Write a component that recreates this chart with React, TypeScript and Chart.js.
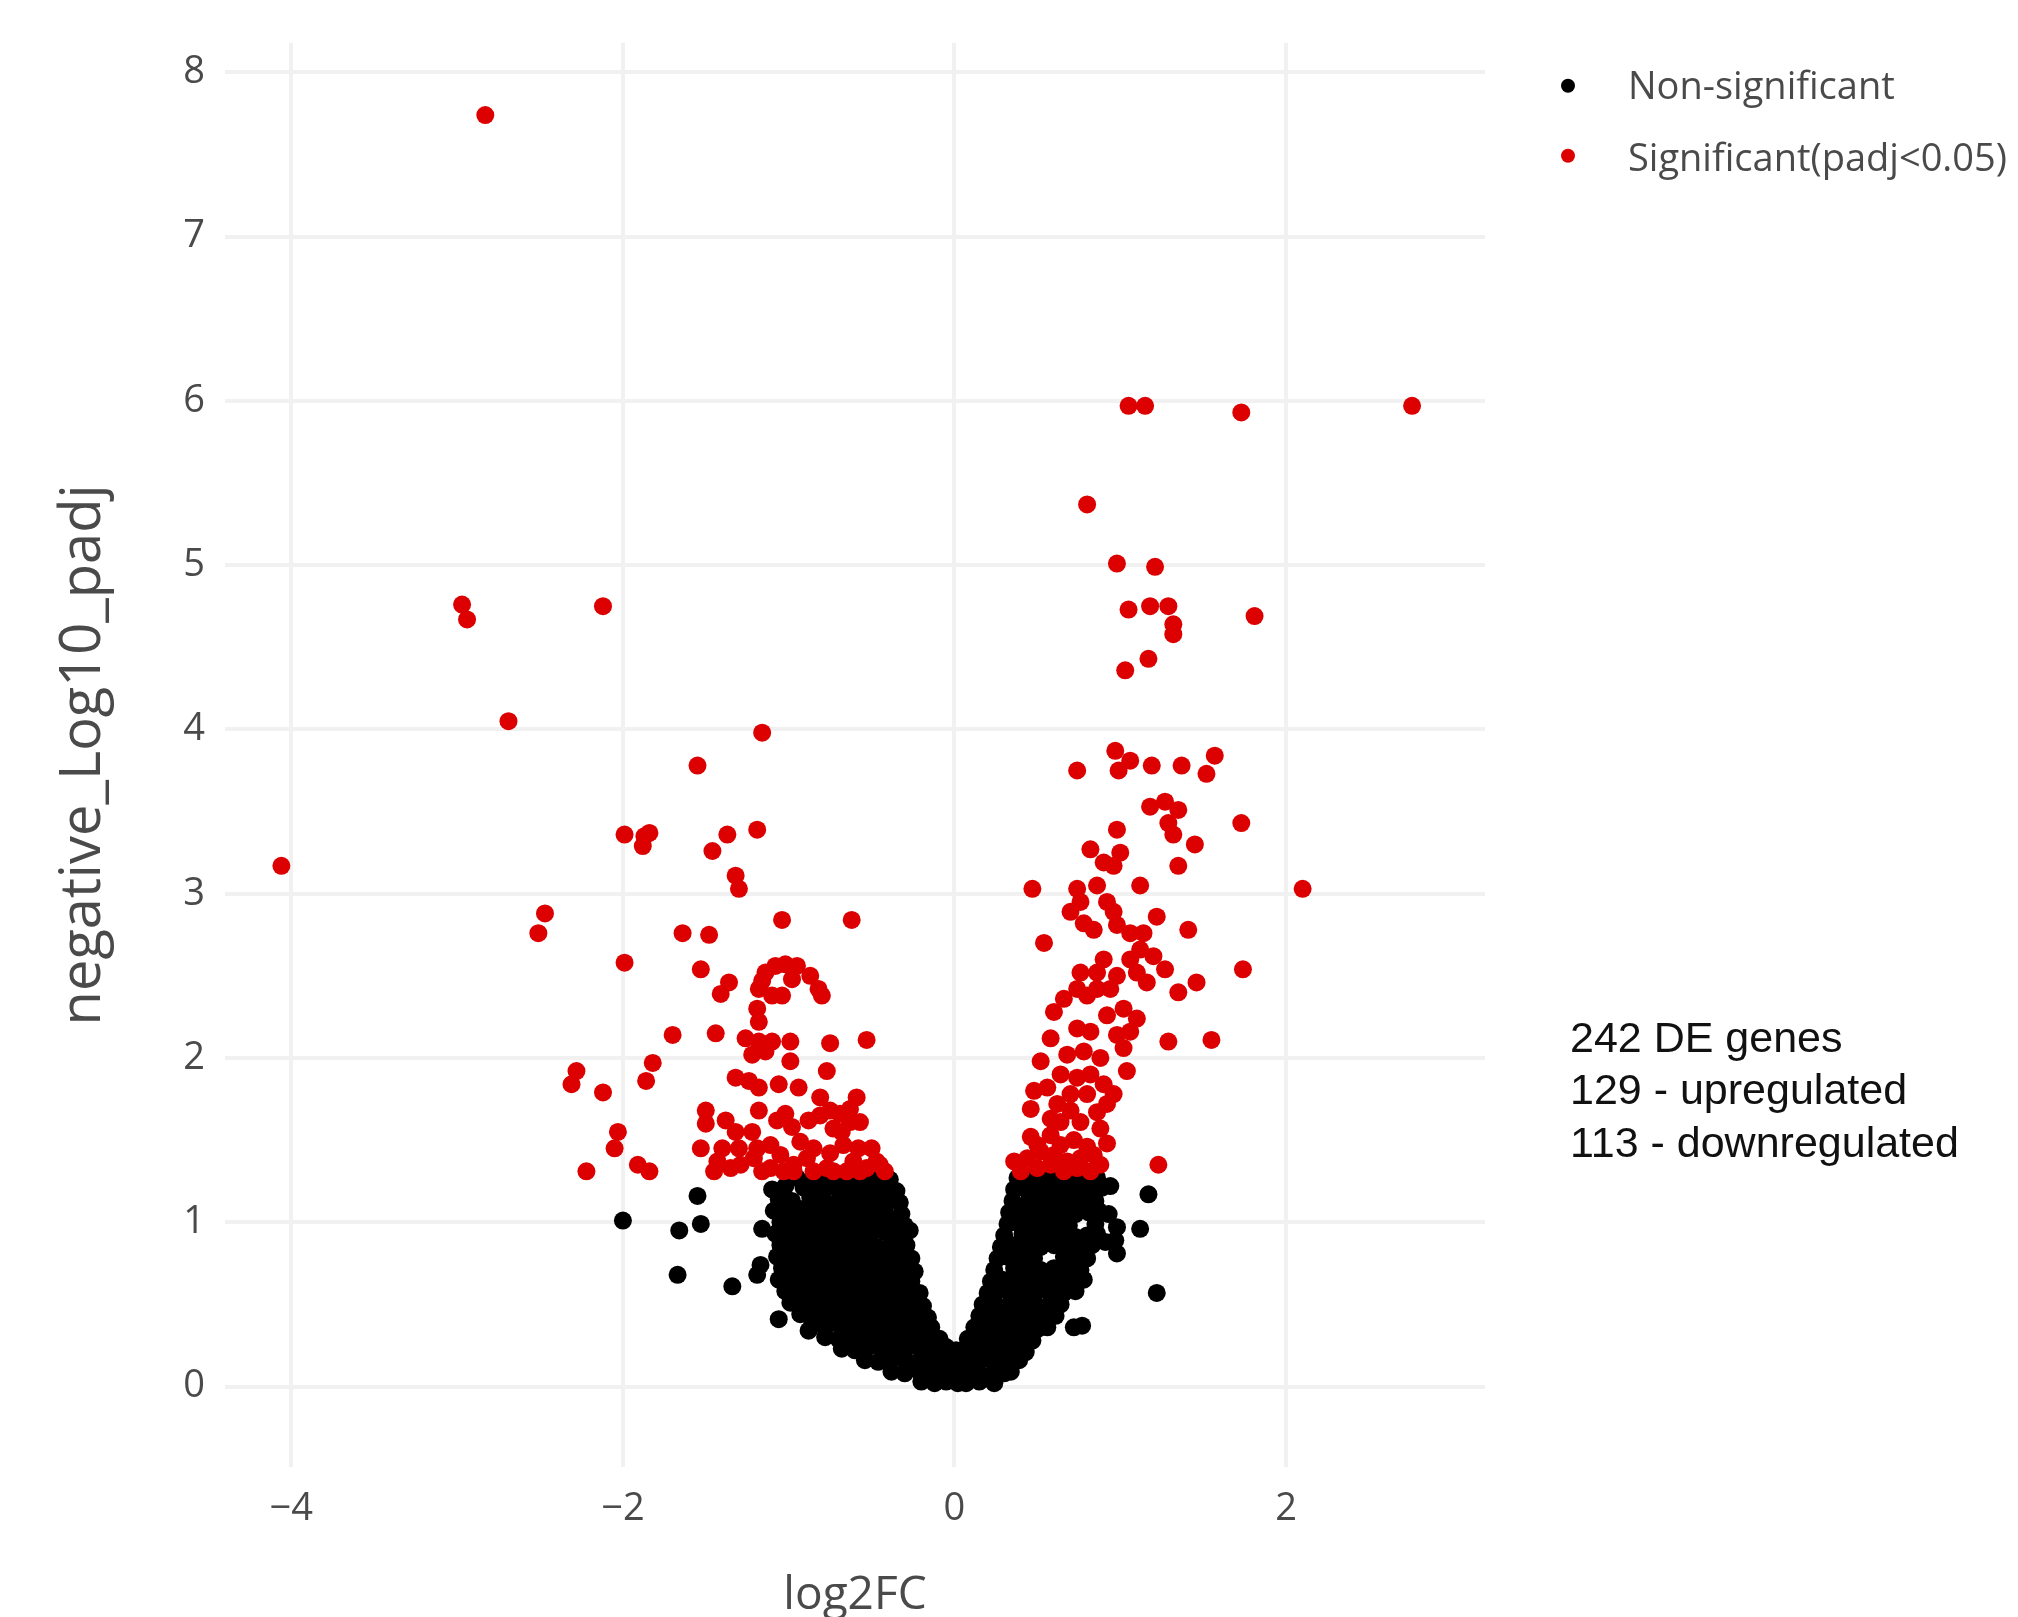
import React, { useEffect, useRef } from "react";
import { Chart, registerables } from "chart.js";

Chart.register(...registerables);

// ---------- data ----------
const xTickValues = [-4, -2, 0, 2];
const yTickValues = [0, 1, 2, 3, 4, 5, 6, 7, 8];
const xAxisTitle = "log2FC";
const yAxisTitle = "negative_Log10_padj";
const legendLabels = ["Non-significant", "Significant(padj<0.05)"];
const annotationLines = ["242 DE genes", "129 - upregulated", "113 - downregulated"];

// significant, downregulated (log2FC < 0)
const sigDown: [number, number][] = [
  [-2.83, 7.74], [-4.06, 3.17], [-2.97, 4.76], [-2.94, 4.67], [-2.12, 4.75], [-2.69, 4.05], [-1.16, 3.98], [-1.55, 3.78],
  [-1.99, 3.36], [-1.87, 3.35], [-1.84, 3.37], [-1.88, 3.29], [-1.46, 3.26], [-1.37, 3.36], [-1.19, 3.39], [-1.32, 3.11], [-1.30, 3.03],
  [-2.47, 2.88], [-2.51, 2.76], [-1.64, 2.76], [-1.48, 2.75], [-1.04, 2.84], [-0.62, 2.84], [-1.99, 2.58], [-1.53, 2.54], [-1.36, 2.46], [-1.41, 2.39],
  [-1.14, 2.52], [-1.08, 2.56], [-1.02, 2.57], [-0.95, 2.56], [-0.87, 2.50], [-0.82, 2.42], [-0.80, 2.38], [-1.18, 2.42], [-1.19, 2.30],
  [-1.18, 2.22], [-1.10, 2.38], [-1.04, 2.38], [-0.98, 2.48], [-1.16, 2.47],
  [-1.70, 2.14], [-1.44, 2.15], [-1.26, 2.12], [-1.18, 2.10], [-1.14, 2.04], [-1.10, 2.10], [-1.22, 2.02], [-0.99, 2.10], [-0.99, 1.98], [-0.53, 2.11], [-0.75, 2.09],
  [-2.28, 1.92], [-2.31, 1.84], [-2.12, 1.79], [-1.82, 1.97], [-1.86, 1.86],
  [-1.32, 1.88], [-1.24, 1.86], [-1.18, 1.82], [-1.06, 1.84], [-0.94, 1.82], [-0.77, 1.92], [-0.59, 1.76], [-0.69, 1.66], [-0.63, 1.61],
  [-1.50, 1.68], [-1.50, 1.60], [-1.18, 1.68], [-1.02, 1.66], [-0.98, 1.58], [-1.32, 1.55], [-1.22, 1.55], [-2.03, 1.55], [-0.81, 1.76], [-0.75, 1.68],
  [-2.05, 1.45], [-2.22, 1.31], [-1.91, 1.35], [-1.84, 1.31], [-1.53, 1.45], [-1.43, 1.37], [-1.35, 1.33], [-1.29, 1.35], [-1.21, 1.39],
  [-1.19, 1.45], [-1.11, 1.47], [-1.07, 1.62], [-0.93, 1.49], [-0.89, 1.39], [-0.97, 1.35], [-1.05, 1.41], [-1.11, 1.33], [-0.81, 1.65],
  [-0.73, 1.57], [-0.67, 1.47], [-0.61, 1.37], [-0.53, 1.33], [-0.47, 1.37], [-0.77, 1.33], [-0.65, 1.31], [-0.57, 1.31], [-0.97, 1.31],
  [-0.85, 1.31], [-0.73, 1.31], [-0.63, 1.69], [-0.57, 1.61], [-0.45, 1.35], [-1.40, 1.45], [-1.45, 1.31], [-1.30, 1.45], [-1.16, 1.31],
  [-1.03, 1.31], [-0.85, 1.45], [-0.75, 1.42], [-0.58, 1.45], [-0.50, 1.45], [-1.38, 1.62], [-0.88, 1.62], [-0.68, 1.55], [-0.42, 1.31],
];

// significant, upregulated (log2FC > 0)
const sigUp: [number, number][] = [
  [1.05, 5.97], [1.15, 5.97], [1.73, 5.93], [2.76, 5.97], [0.80, 5.37], [0.98, 5.01], [1.21, 4.99],
  [1.05, 4.73], [1.18, 4.75], [1.29, 4.75], [1.32, 4.64], [1.32, 4.58], [1.81, 4.69], [1.17, 4.43], [1.03, 4.36],
  [0.74, 3.75], [0.97, 3.87], [0.99, 3.75], [1.06, 3.81], [1.19, 3.78], [1.37, 3.78], [1.57, 3.84], [1.52, 3.73],
  [1.18, 3.53], [1.29, 3.43], [1.35, 3.51], [1.73, 3.43], [0.98, 3.39], [0.82, 3.27], [0.90, 3.19], [0.96, 3.17], [1.35, 3.17], [2.10, 3.03], [0.47, 3.03],
  [0.74, 3.03], [0.76, 2.95], [0.70, 2.89], [0.78, 2.82], [0.84, 2.78], [0.96, 2.89], [0.98, 2.81], [1.06, 2.76], [1.14, 2.76], [1.41, 2.78], [0.54, 2.70],
  [0.76, 2.52], [0.74, 2.42], [0.80, 2.38], [0.86, 2.42], [1.06, 2.60], [1.10, 2.52], [1.16, 2.46], [0.98, 2.50], [0.94, 2.42], [1.27, 2.54], [1.35, 2.40], [1.46, 2.46], [1.74, 2.54],
  [0.60, 2.28], [0.58, 2.12], [0.52, 1.98], [0.74, 2.18], [0.82, 2.16], [0.92, 2.26], [0.98, 2.14], [1.06, 2.16], [1.02, 2.06], [1.29, 2.10], [1.55, 2.11],
  [0.64, 1.90], [0.74, 1.88], [0.82, 1.90], [0.90, 1.84], [0.96, 1.78], [0.70, 1.78], [0.80, 1.78], [0.46, 1.69], [0.58, 1.63], [0.86, 1.67], [0.88, 1.57],
  [0.64, 1.61], [0.76, 1.61], [0.58, 1.53], [0.64, 1.47],
  [0.36, 1.37], [0.44, 1.39], [0.52, 1.43], [0.60, 1.41], [0.68, 1.37], [0.76, 1.39], [0.84, 1.41], [0.88, 1.35], [0.40, 1.31], [0.50, 1.33],
  [0.58, 1.35], [0.66, 1.31], [0.74, 1.33], [0.82, 1.31], [1.23, 1.35], [0.50, 1.47],
  [0.90, 2.60], [0.86, 2.52], [1.02, 2.30], [0.68, 2.02], [0.78, 2.04], [0.88, 2.00], [1.10, 2.24], [0.70, 1.68], [0.92, 1.72], [0.56, 1.82],
  [1.04, 1.92], [1.12, 2.66], [1.20, 2.62], [0.66, 2.36], [0.92, 1.48], [0.72, 1.50], [0.80, 1.46], [0.46, 1.52], [0.48, 1.80], [0.62, 1.72],
  [1.00, 3.25], [0.86, 3.05], [1.12, 3.05], [1.27, 3.56], [1.32, 3.36], [0.92, 2.95], [1.22, 2.86], [1.45, 3.30],
];

// non-significant, left arm of the volcano
const nonSigLeft: [number, number][] = [
  [-0.95, 1.27], [-0.86, 1.26], [-0.78, 1.28], [-0.70, 1.27], [-0.62, 1.26], [-0.54, 1.28], [-0.46, 1.27], [-0.39, 1.26],
  [-1.10, 1.20], [-1.02, 1.22], [-0.91, 1.21], [-0.83, 1.20], [-0.74, 1.22], [-0.66, 1.21], [-0.58, 1.20], [-0.50, 1.22], [-0.42, 1.21], [-0.35, 1.19],
  [-1.06, 1.14], [-0.98, 1.13], [-0.87, 1.15], [-0.79, 1.14], [-0.70, 1.13], [-0.62, 1.15], [-0.54, 1.14], [-0.46, 1.13], [-0.38, 1.15], [-0.33, 1.12],
  [-1.09, 1.07], [-1.01, 1.06], [-0.93, 1.08], [-0.84, 1.07], [-0.75, 1.06], [-0.67, 1.08], [-0.58, 1.07], [-0.50, 1.06], [-0.42, 1.08], [-0.32, 1.05],
  [-1.05, 1.00], [-0.97, 0.99], [-0.88, 1.01], [-0.80, 1.00], [-0.71, 0.99], [-0.63, 1.01], [-0.55, 1.00], [-0.46, 0.99], [-0.38, 1.01], [-0.30, 0.98],
  [-1.08, 0.93], [-1.00, 0.92], [-0.92, 0.94], [-0.84, 0.93], [-0.76, 0.92], [-0.67, 0.94], [-0.59, 0.93], [-0.51, 0.92], [-0.42, 0.94], [-0.34, 0.93], [-0.27, 0.95],
  [-1.05, 0.86], [-0.96, 0.85], [-0.88, 0.87], [-0.79, 0.86], [-0.71, 0.85], [-0.63, 0.87], [-0.55, 0.86], [-0.47, 0.85], [-0.38, 0.87], [-0.29, 0.86],
  [-1.07, 0.79], [-0.99, 0.78], [-0.91, 0.80], [-0.83, 0.79], [-0.75, 0.78], [-0.67, 0.80], [-0.59, 0.79], [-0.50, 0.78], [-0.42, 0.80], [-0.34, 0.79], [-0.26, 0.78],
  [-1.04, 0.72], [-0.95, 0.71], [-0.87, 0.73], [-0.79, 0.72], [-0.71, 0.71], [-0.62, 0.73], [-0.54, 0.72], [-0.46, 0.71], [-0.38, 0.73], [-0.30, 0.72], [-0.24, 0.70],
  [-1.06, 0.65], [-0.98, 0.64], [-0.90, 0.66], [-0.82, 0.65], [-0.74, 0.64], [-0.66, 0.66], [-0.58, 0.65], [-0.50, 0.64], [-0.42, 0.66], [-0.34, 0.65], [-0.26, 0.64],
  [-1.02, 0.58], [-0.94, 0.57], [-0.86, 0.59], [-0.78, 0.58], [-0.70, 0.57], [-0.62, 0.59], [-0.54, 0.58], [-0.46, 0.57], [-0.38, 0.59], [-0.29, 0.58], [-0.21, 0.57],
  [-0.99, 0.51], [-0.91, 0.50], [-0.83, 0.52], [-0.74, 0.51], [-0.66, 0.50], [-0.58, 0.52], [-0.50, 0.51], [-0.42, 0.50], [-0.33, 0.52], [-0.25, 0.51], [-0.19, 0.49],
  [-0.93, 0.44], [-0.85, 0.43], [-0.77, 0.45], [-0.69, 0.44], [-0.61, 0.43], [-0.53, 0.45], [-0.45, 0.44], [-0.37, 0.43], [-0.29, 0.45], [-0.21, 0.44], [-0.16, 0.42],
  [-0.86, 0.37], [-0.78, 0.36], [-0.70, 0.38], [-0.62, 0.37], [-0.54, 0.36], [-0.46, 0.38], [-0.38, 0.37], [-0.30, 0.36], [-0.22, 0.38], [-0.14, 0.36],
  [-0.78, 0.30], [-0.70, 0.29], [-0.63, 0.31], [-0.55, 0.30], [-0.47, 0.29], [-0.39, 0.31], [-0.31, 0.30], [-0.23, 0.29], [-0.15, 0.31], [-0.09, 0.29],
  [-0.68, 0.23], [-0.60, 0.22], [-0.52, 0.24], [-0.44, 0.23], [-0.36, 0.22], [-0.28, 0.24], [-0.20, 0.23], [-0.12, 0.22], [-0.05, 0.24], [0.01, 0.22],
  [-0.54, 0.16], [-0.46, 0.15], [-0.38, 0.17], [-0.30, 0.16], [-0.22, 0.15], [-0.14, 0.17], [-0.07, 0.16], [0.00, 0.15],
  [-0.38, 0.09], [-0.30, 0.08], [-0.22, 0.10], [-0.15, 0.09], [-0.08, 0.08], [-0.02, 0.09],
  [-0.20, 0.03], [-0.12, 0.02], [-0.05, 0.03], [0.02, 0.02],
];

// non-significant, right arm of the volcano
const nonSigRight: [number, number][] = [
  [0.38, 1.27], [0.46, 1.26], [0.54, 1.28], [0.62, 1.27], [0.70, 1.26], [0.78, 1.28], [0.86, 1.27],
  [0.36, 1.20], [0.42, 1.21], [0.50, 1.19], [0.58, 1.20], [0.66, 1.21], [0.74, 1.19], [0.82, 1.20], [0.89, 1.21],
  [0.35, 1.13], [0.45, 1.14], [0.53, 1.12], [0.61, 1.13], [0.69, 1.14], [0.77, 1.12], [0.85, 1.13],
  [0.33, 1.06], [0.41, 1.07], [0.49, 1.05], [0.57, 1.06], [0.65, 1.07], [0.73, 1.05], [0.81, 1.06], [0.87, 1.07],
  [0.32, 0.99], [0.37, 1.00], [0.45, 0.98], [0.53, 0.99], [0.61, 1.00], [0.69, 0.98], [0.85, 0.99],
  [0.30, 0.92], [0.41, 0.93], [0.49, 0.91], [0.57, 0.92], [0.65, 0.93], [0.73, 0.91], [0.80, 0.92], [0.86, 0.93],
  [0.28, 0.85], [0.36, 0.86], [0.44, 0.84], [0.52, 0.85], [0.60, 0.86], [0.68, 0.84], [0.76, 0.85], [0.83, 0.86],
  [0.26, 0.78], [0.32, 0.79], [0.40, 0.77], [0.48, 0.78], [0.66, 0.79], [0.72, 0.77], [0.80, 0.78],
  [0.24, 0.71], [0.36, 0.72], [0.44, 0.70], [0.52, 0.71], [0.60, 0.72], [0.68, 0.70], [0.76, 0.71],
  [0.22, 0.64], [0.29, 0.65], [0.37, 0.63], [0.45, 0.64], [0.53, 0.65], [0.61, 0.63], [0.69, 0.64], [0.78, 0.65],
  [0.20, 0.57], [0.26, 0.58], [0.34, 0.56], [0.42, 0.57], [0.50, 0.58], [0.58, 0.56], [0.66, 0.57], [0.73, 0.58],
  [0.17, 0.50], [0.24, 0.51], [0.32, 0.49], [0.40, 0.50], [0.48, 0.51], [0.56, 0.49], [0.64, 0.50],
  [0.15, 0.43], [0.21, 0.44], [0.29, 0.42], [0.37, 0.43], [0.45, 0.44], [0.53, 0.42], [0.61, 0.43],
  [0.12, 0.36], [0.18, 0.37], [0.26, 0.35], [0.34, 0.36], [0.42, 0.37], [0.50, 0.35], [0.56, 0.36],
  [0.08, 0.29], [0.15, 0.30], [0.23, 0.28], [0.31, 0.29], [0.39, 0.30], [0.47, 0.28],
  [0.05, 0.22], [0.12, 0.23], [0.20, 0.21], [0.28, 0.22], [0.36, 0.23], [0.43, 0.21],
  [0.08, 0.15], [0.16, 0.16], [0.24, 0.14], [0.32, 0.15], [0.39, 0.16],
  [0.06, 0.08], [0.14, 0.09], [0.22, 0.07], [0.30, 0.08], [0.34, 0.09],
  [0.07, 0.02], [0.15, 0.03], [0.24, 0.02],
];

// non-significant, scattered outliers
const nonSigOutliers: [number, number][] = [
  [-1.55, 1.16], [-2.00, 1.01], [-1.66, 0.95], [-1.53, 0.99], [-1.67, 0.68], [-1.34, 0.61], [-1.19, 0.68], [-1.17, 0.74],
  [-1.16, 0.96], [-1.06, 0.41], [-0.88, 0.34],
  [1.17, 1.17], [1.12, 0.96], [0.98, 0.97], [0.97, 0.89], [0.98, 0.81], [1.22, 0.57], [0.72, 0.36], [0.77, 0.37],
  [0.94, 1.22], [0.93, 1.05], [0.91, 0.88],
];

// ---------- styling ----------
const W = 2018;
const H = 1617;
const FONT = "'Open Sans', 'DejaVu Sans', sans-serif";
const TEXT_GREY = "#4a4a4a";
const GRID = "#f1f1f1";
const RED = "#dd0000";
const BLACK = "#000000";

const toPoints = (arr: [number, number][]) => arr.map(([x, y]) => ({ x, y }));
const fmtTick = (v: number) => (v < 0 ? "\u2212" + Math.abs(v) : String(v));

const overlayPlugin = {
  id: "overlayText",
  afterDraw(chart: any) {
    const ctx = chart.ctx as CanvasRenderingContext2D;
    const area = chart.chartArea;
    ctx.save();
    // legend
    const markerX = area.right + 83;
    const textX = area.right + 143;
    const rows = [
      { label: legendLabels[0], color: BLACK, my: area.top + 43, ty: area.top + 45 },
      { label: legendLabels[1], color: RED, my: area.top + 113, ty: area.top + 117 },
    ];
    rows.forEach((r) => {
      ctx.beginPath();
      ctx.fillStyle = r.color;
      ctx.arc(markerX, r.my, 7, 0, Math.PI * 2);
      ctx.fill();
      ctx.fillStyle = TEXT_GREY;
      ctx.font = `38px ${FONT}`;
      ctx.textAlign = "left";
      ctx.textBaseline = "middle";
      ctx.fillText(r.label, textX, r.ty);
    });
    // annotation block
    ctx.fillStyle = "#111111";
    ctx.font = "43px 'Liberation Sans', Arial, sans-serif";
    ctx.textBaseline = "alphabetic";
    ctx.textAlign = "left";
    const baseY = area.top + 1009;
    annotationLines.forEach((line, i) => {
      ctx.fillText(line, area.right + 85, baseY + i * 52.5);
    });
    ctx.restore();
  },
};

export default function App() {
  const canvasRef = useRef<HTMLCanvasElement | null>(null);

  useEffect(() => {
    if (!canvasRef.current) return;
    const chart = new Chart(canvasRef.current, {
      type: "scatter",
      data: {
        datasets: [
          {
            label: legendLabels[0],
            data: toPoints([...nonSigLeft, ...nonSigRight, ...nonSigOutliers]),
            backgroundColor: BLACK,
            borderWidth: 0,
            pointRadius: 9,
            pointHoverRadius: 9,
            order: 1,
          },
          {
            label: legendLabels[1],
            data: toPoints([...sigDown, ...sigUp]),
            backgroundColor: RED,
            borderWidth: 0,
            pointRadius: 9,
            pointHoverRadius: 9,
            order: 0,
          },
        ],
      },
      options: {
        responsive: false,
        animation: false,
        devicePixelRatio: 1,
        layout: { padding: { left: 0, top: 35, right: W - 1485, bottom: 0 } },
        plugins: {
          legend: { display: false },
          tooltip: { enabled: false },
        },
        scales: {
          x: {
            type: "linear",
            min: -4.4,
            max: 3.2,
            afterBuildTicks: (axis: any) => {
              axis.ticks = xTickValues.map((v) => ({ value: v }));
            },
            afterFit: (axis: any) => {
              axis.height = H - 1467;
            },
            grid: { color: GRID, lineWidth: 4, drawTicks: false },
            border: { display: false },
            ticks: {
              padding: 19,
              color: TEXT_GREY,
              font: { family: FONT, size: 38 },
              callback: (v: any) => fmtTick(Number(v)),
            },
            title: {
              display: true,
              text: xAxisTitle,
              color: TEXT_GREY,
              font: { family: FONT, size: 46, lineHeight: 0.9 },
              padding: { top: 0, bottom: 0 },
            },
          },
          y: {
            type: "linear",
            min: -0.49,
            max: 8.18,
            afterBuildTicks: (axis: any) => {
              axis.ticks = yTickValues.map((v) => ({ value: v }));
            },
            afterFit: (axis: any) => {
              axis.width = 225;
            },
            grid: { color: GRID, lineWidth: 4, drawTicks: false },
            border: { display: false },
            ticks: {
              padding: 20,
              color: TEXT_GREY,
              font: { family: FONT, size: 38 },
              callback: (v: any) => fmtTick(Number(v)),
            },
            title: {
              display: true,
              text: yAxisTitle,
              color: TEXT_GREY,
              font: { family: FONT, size: 56 },
              padding: { top: 50, bottom: 0 },
            },
          },
        },
      },
      plugins: [overlayPlugin],
    } as any);
    return () => chart.destroy();
  }, []);

  return (
    <div style={{ position: "absolute", left: 0, top: 0, width: W, height: H, background: "#ffffff", overflow: "hidden" }}>
      <canvas ref={canvasRef} width={W} height={H} style={{ display: "block", width: W, height: H }} />
    </div>
  );
}
